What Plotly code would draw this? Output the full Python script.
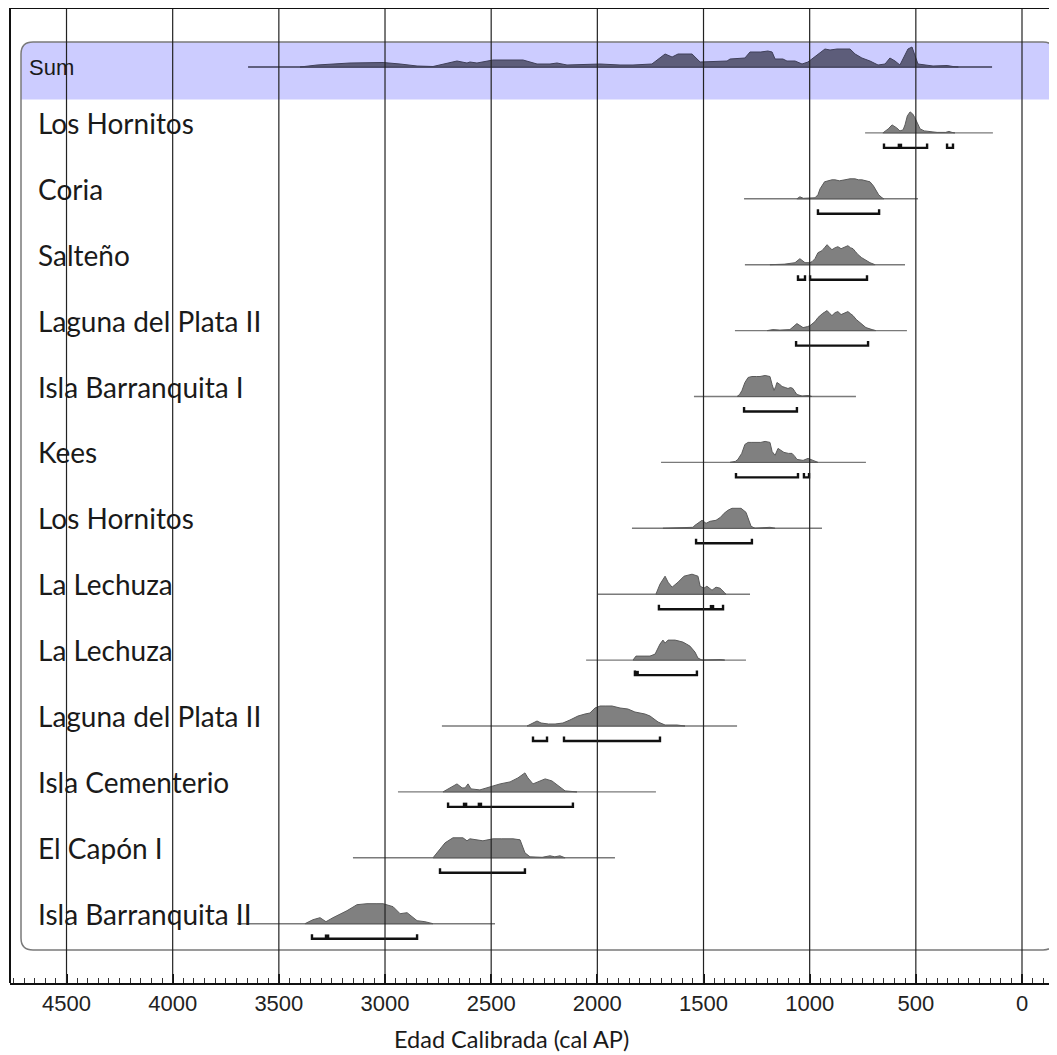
import plotly.graph_objects as go

# ---------------- data ----------------
LABELS = ["Sum", "Los Hornitos", "Coria", "Salteño", "Laguna del Plata II",
          "Isla Barranquita I", "Kees", "Los Hornitos", "La Lechuza", "La Lechuza",
          "Laguna del Plata II", "Isla Cementerio", "El Capón I", "Isla Barranquita II"]

TICK_VALUES = [4500, 4000, 3500, 3000, 2500, 2000, 1500, 1000, 500, 0]
TICK_LABELS = ["4500", "4000", "3500", "3000", "2500", "2000", "1500", "1000", "500", "0"]
AXIS_TITLE = "Edad Calibrada (cal AP)"

# Sum of probabilities (relative height)
SUM_AGE = [3400, 3320, 3165, 3009, 2929, 2849, 2774, 2708, 2661, 2614, 2600, 2567, 2491, 2350,
           2284, 2223, 2190, 2143, 1987, 1893, 1832, 1743, 1705, 1681, 1648, 1620, 1554, 1516,
           1389, 1375, 1305, 1281, 1230, 1197, 1177, 1163, 1126, 1107, 1069, 1036, 1008, 966,
           928, 904, 871, 810, 786, 754, 716, 678, 645, 622, 598, 575, 560, 537, 518, 504, 490,
           419, 353, 325, 300]
SUM_P = [0, 2, 4, 4.5, 3, 1, 0.5, 4, 6, 4, 5, 4, 7, 7,
         3, 3, 4, 2, 3, 2, 2, 3, 9, 13, 10, 13, 13, 5,
         6, 8, 9, 15, 15, 16, 15, 8, 8, 6, 6, 3, 5, 12,
         18, 17, 18, 18, 13, 9, 6, 2, 3, 9, 6, 2, 8, 18, 20, 12, 3,
         1, 1.5, 0.5, 0]

R01_AGE = [655, 630, 612, 590, 575, 560, 551, 540, 527, 515, 504, 492, 480, 460, 433, 400, 360, 344, 330, 316]
R01_P = [0, 4, 8, 5, 2, 3, 8, 17, 21, 19, 15, 9, 4, 2, 1, 0.5, 0.5, 1.5, 0.5, 0]

R02_AGE = [1060, 1046, 1030, 985, 975, 961, 951, 930, 914, 895, 881, 860, 834, 810, 787, 770, 754, 735,
           716, 700, 692, 675, 659, 650]
R02_P = [0, 2, 0.5, 0.5, 1, 4, 10, 17, 18, 19, 19, 18, 19, 20, 20, 19, 19, 18, 17, 13, 10, 4, 1, 0]

R03_AGE = [1187, 1120, 1069, 1046, 1022, 1000, 989, 975, 961, 942, 930, 918, 905, 895, 880, 867, 852, 838,
           829, 820, 808, 796, 784, 772, 755, 739, 716, 692]
R03_P = [0, 0.5, 2, 6, 2, 2, 3, 6, 12, 14, 17, 20, 17, 15, 17, 18, 16, 17, 18, 19, 17, 16, 13, 10, 7, 5, 2, 0]

R04_AGE = [1200, 1173, 1140, 1093, 1060, 1031, 1010, 998, 975, 961, 940, 918, 905, 895, 880, 867, 852, 838,
           829, 820, 808, 796, 780, 763, 745, 735, 706, 688]
R04_P = [0, 1, 0.5, 1, 7, 3, 4, 5, 9, 13, 17, 20, 17, 15, 18, 19, 16, 17, 18, 19, 17, 15, 11, 8, 5, 3, 1, 0]

R05_AGE = [1342, 1330, 1319, 1305, 1290, 1272, 1250, 1234, 1210, 1187, 1177, 1168, 1160, 1154, 1140, 1130,
           1115, 1102, 1090, 1079, 1070, 1060, 1036, 1008, 989]
R05_P = [0, 2, 6, 14, 19, 20, 20, 20, 21, 20, 12, 6, 10, 14, 12, 10, 9, 8, 9, 8, 5, 2, 0.5, 1, 0]

R06_AGE = [1375, 1350, 1338, 1320, 1305, 1290, 1272, 1250, 1230, 1210, 1187, 1177, 1163, 1149, 1135, 1121,
           1100, 1083, 1070, 1060, 1031, 1008, 984, 961]
R06_P = [0, 1, 3, 9, 18, 20, 20, 20, 20, 21, 20, 11, 7, 14, 12, 10, 9, 9, 6, 3, 2, 4, 2, 0]

R07_AGE = [1691, 1600, 1550, 1540, 1507, 1488, 1469, 1441, 1420, 1403, 1385, 1366, 1340, 1323, 1300, 1285,
           1276, 1257, 1200, 1187, 1163]
R07_P = [0, 0.5, 1, 3, 8, 5, 7, 8, 11, 15, 18, 20, 20, 20, 16, 8, 2, 0, 0.5, 1, 0]

R08_AGE = [1724, 1705, 1681, 1667, 1648, 1620, 1592, 1570, 1554, 1540, 1526, 1516, 1498, 1484, 1460, 1441,
           1422, 1403, 1394]
R08_P = [0, 10, 18, 12, 7, 12, 18, 19, 20, 19, 18, 8, 6, 8, 4, 7, 6, 2, 0]

R09_AGE = [1832, 1818, 1780, 1752, 1728, 1705, 1691, 1681, 1667, 1650, 1634, 1615, 1597, 1580, 1564, 1540,
           1526, 1507, 1470, 1422, 1400]
R09_P = [0, 4, 4, 4, 6, 16, 20, 17, 20, 20, 20, 19, 18, 16, 14, 8, 2, 0, 0.5, 0.5, 0]

R10_AGE = [2331, 2303, 2284, 2265, 2230, 2199, 2162, 2129, 2091, 2058, 2035, 2011, 1987, 1960, 1931, 1893,
           1856, 1823, 1800, 1776, 1752, 1714, 1681, 1650, 1625, 1587]
R10_P = [0, 3, 5, 3, 2, 2, 3, 6, 10, 12, 13, 18, 20, 20, 20, 18, 17, 14, 13, 12, 10, 4, 1, 1, 1, 0]

R11_AGE = [2727, 2694, 2661, 2637, 2623, 2609, 2595, 2553, 2506, 2458, 2411, 2374, 2341, 2327, 2303, 2280,
           2246, 2214, 2185, 2152, 2096]
R11_P = [0, 4, 8, 4, 4, 8, 3, 2, 5, 8, 10, 14, 19, 14, 8, 10, 13, 11, 6, 1, 0]

R12_AGE = [2774, 2750, 2717, 2680, 2633, 2614, 2600, 2539, 2491, 2450, 2397, 2364, 2341, 2317, 2260, 2223,
           2200, 2176, 2152]
R12_P = [0, 6, 15, 20, 20, 17, 19, 17, 19, 19, 19, 18, 5, 1, 0.5, 2, 1, 2, 0]

R13_AGE = [3377, 3339, 3306, 3278, 3245, 3179, 3132, 3085, 3038, 3009, 2962, 2929, 2896, 2849, 2812, 2774]
R13_P = [0, 4, 6, 2, 6, 13, 19, 20, 20, 20, 17, 10, 11, 3, 2, 0]

# extent of the thin horizontal line of each row (from, to)
LINE_FROM = [3645, 739, 1309, 1305, 1352, 1545, 1700, 1837, 1997, 2053, 2732, 2939, 3151, 3697]
LINE_TO = [141, 137, 490, 551, 542, 782, 735, 942, 1281, 1300, 1342, 1724, 1917, 2482]

# range brackets (from, to) per row (none for Sum)
BRACKETS = [[], [(650, 447), (353, 325)], [(961, 673)], [(1055, 1022), (998, 730)], [(1064, 725)],
            [(1309, 1060)], [(1347, 1055), (1027, 1003)], [(1535, 1272)], [(1710, 1408)],
            [(1823, 1531)], [(2303, 2237), (2157, 1705)], [(2703, 2115)], [(2741, 2341)],
            [(3344, 2849)]]
BRACKET_MARKS = [[], [575], [], [], [], [], [], [], [1460], [1815], [], [2623, 2553], [], [3273]]

ROW_SERIES = [(SUM_AGE, SUM_P), (R01_AGE, R01_P), (R02_AGE, R02_P), (R03_AGE, R03_P),
              (R04_AGE, R04_P), (R05_AGE, R05_P), (R06_AGE, R06_P), (R07_AGE, R07_P),
              (R08_AGE, R08_P), (R09_AGE, R09_P), (R10_AGE, R10_P), (R11_AGE, R11_P),
              (R12_AGE, R12_P), (R13_AGE, R13_P)]

# ---------------- geometry (figure pixels; page adds an 8px body margin) ----------------
W, H = 1049, 1047
PLOT_L, PLOT_R, PLOT_T, PLOT_B = 2, 1049, 0, 975
X_ZERO_PX = 1014.0
PX_PER_YR = 0.21233
ROW0_PX = 59.0
ROW_PX = 65.9


def xa(px):
    return (X_ZERO_PX - px) / PX_PER_YR


def yr(px):
    return (px - ROW0_PX) / ROW_PX


HSCALE = 1.0 / ROW_PX  # relative height units are ~1 px
BR_OFF = 15.0 / ROW_PX
BR_TICK = 4.5 / ROW_PX

fig = go.Figure()


def rounded_path(x1, y1, x2, y2, r, top_only=False):
    def P(px, py):
        return f"{xa(px)},{yr(py)}"
    if top_only:
        return (f"M {P(x1, y2)} L {P(x1, y1 + r)} Q {P(x1, y1)} {P(x1 + r, y1)} "
                f"L {P(x2 - r, y1)} Q {P(x2, y1)} {P(x2, y1 + r)} L {P(x2, y2)} Z")
    return (f"M {P(x1 + r, y1)} L {P(x2 - r, y1)} Q {P(x2, y1)} {P(x2, y1 + r)} "
            f"L {P(x2, y2 - r)} Q {P(x2, y2)} {P(x2 - r, y2)} L {P(x1 + r, y2)} "
            f"Q {P(x1, y2)} {P(x1, y2 - r)} L {P(x1, y1 + r)} Q {P(x1, y1)} {P(x1 + r, y1)} Z")


# Sum band and panel
fig.add_shape(type="path", path=rounded_path(13, 34, 1047, 91.5, 12, top_only=True),
              xref="x", yref="y", fillcolor="#CCCCFF", line=dict(width=0), layer="below")
fig.add_shape(type="path", path=rounded_path(13, 34, 1047, 942, 12),
              xref="x", yref="y", fillcolor="rgba(0,0,0,0)",
              line=dict(color="#7a7a7a", width=1.5), layer="below")

# rows
for r, (ages, ps) in enumerate(ROW_SERIES):
    is_sum = (r == 0)
    fig.add_trace(go.Scatter(x=[LINE_FROM[r], LINE_TO[r]], y=[r, r], mode="lines",
                             line=dict(color="#3c3c55" if is_sum else "#7a7a7a", width=1.4),
                             hoverinfo="skip", showlegend=False))
    xs = list(ages) + [ages[-1], ages[0]]
    ys = [r - p * HSCALE for p in ps] + [r, r]
    fig.add_trace(go.Scatter(x=xs, y=ys, mode="lines", fill="toself",
                             fillcolor="#5d5d7a" if is_sum else "#808080",
                             line=dict(color="#40405a" if is_sum else "#5a5a5a", width=1),
                             hoverinfo="skip", showlegend=False))
    if BRACKETS[r]:
        bx, by = [], []
        yb = r + BR_OFF
        for a, b in BRACKETS[r]:
            bx += [a, a, b, b, None]
            by += [yb - BR_TICK, yb, yb, yb - BR_TICK, None]
        fig.add_trace(go.Scatter(x=bx, y=by, mode="lines",
                                 line=dict(color="#111111", width=2.4),
                                 hoverinfo="skip", showlegend=False))
    if BRACKET_MARKS[r]:
        fig.add_trace(go.Scatter(x=BRACKET_MARKS[r], y=[r + BR_OFF - 2.0 / ROW_PX] * len(BRACKET_MARKS[r]),
                                 mode="markers", marker=dict(symbol="square", size=4.5, color="#111111"),
                                 hoverinfo="skip", showlegend=False))

# labels
for r, lab in enumerate(LABELS):
    if r == 0:
        fig.add_annotation(x=(19 - PLOT_L) / (PLOT_R - PLOT_L), xref="paper", y=r, yref="y",
                           text=lab, showarrow=False, xanchor="left", yanchor="middle",
                           font=dict(family="Liberation Sans, Arial", size=22, color="#1a1a1a"))
    else:
        fig.add_annotation(x=(28 - PLOT_L) / (PLOT_R - PLOT_L), xref="paper", y=r, yref="y",
                           text=lab, showarrow=False, xanchor="left", yanchor="bottom", yshift=-9,
                           font=dict(family="Lato", size=28, color="#1a1a1a"))

# grid lines on top
for t in TICK_VALUES:
    fig.add_shape(type="line", x0=t, x1=t, y0=0, y1=1, xref="x", yref="paper",
                  line=dict(color="#222222", width=1.2), layer="above")

# frame: left and top
fig.add_shape(type="line", x0=0, x1=0, y0=0, y1=1, xref="paper", yref="paper",
              line=dict(color="#111111", width=2), layer="above")
fig.add_shape(type="line", x0=0, x1=1, y0=1, y1=1, xref="paper", yref="paper",
              line=dict(color="#111111", width=2), layer="above")

fig.add_annotation(x=(503 - PLOT_L) / (PLOT_R - PLOT_L), xref="paper",
                   y=-(1031 - PLOT_B) / (PLOT_B - PLOT_T), yref="paper",
                   text=AXIS_TITLE, showarrow=False, xanchor="center", yanchor="middle",
                   font=dict(family="Lato", size=23.5, color="#1a1a1a"))

fig.update_layout(
    width=W, height=H,
    margin=dict(l=PLOT_L, r=W - PLOT_R, t=PLOT_T, b=H - PLOT_B, pad=0),
    paper_bgcolor="white", plot_bgcolor="white",
    showlegend=False,
    xaxis=dict(range=[xa(PLOT_L), xa(PLOT_R)], tickmode="array", tickvals=TICK_VALUES,
               ticktext=TICK_LABELS, showgrid=False, zeroline=False,
               showline=True, linecolor="#111111", linewidth=2,
               ticks="inside", ticklen=9, tickwidth=1.5, tickcolor="#111111",
               minor=dict(dtick=50, tick0=0, ticks="inside", ticklen=5, tickwidth=1, tickcolor="#333333"),
               tickfont=dict(family="Liberation Sans, Arial", size=22, color="#222222")),
    yaxis=dict(range=[yr(PLOT_B), yr(PLOT_T)], showgrid=False, zeroline=False,
               showticklabels=False, showline=False, ticks=""),
)

fig.write_html("out.html")
